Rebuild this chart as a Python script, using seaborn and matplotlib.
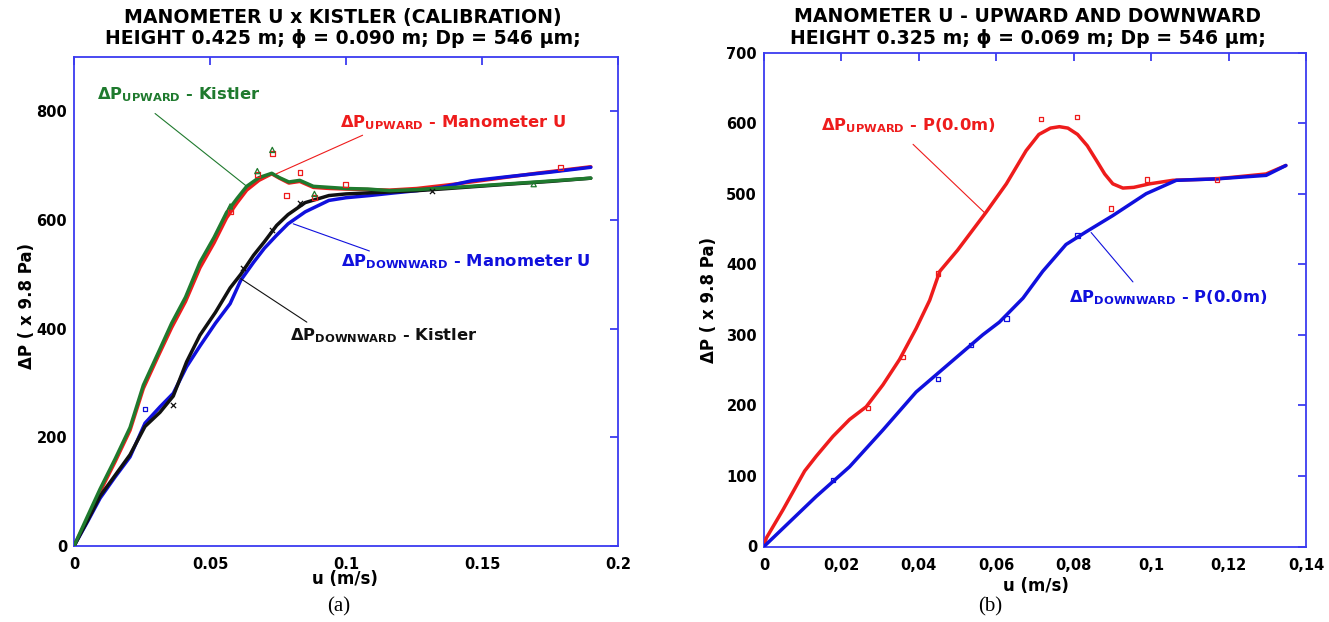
import matplotlib
matplotlib.use("Agg")
import matplotlib.pyplot as plt
import seaborn as sns
import pandas as pd

# ---------------- data: panel (a) ----------------
a_up_u = [0, 0.005, 0.0096, 0.0151, 0.0206, 0.0255, 0.031, 0.0359, 0.041, 0.0463, 0.0515,
          0.0561, 0.06, 0.0635, 0.068, 0.0727, 0.0755, 0.079, 0.083, 0.088, 0.094, 0.100,
          0.108, 0.116, 0.126, 0.14, 0.155, 0.17, 0.19]
a_up_kistler = [0, 55, 105, 160, 218, 296, 356, 410, 458, 522, 568, 614, 640, 662, 678, 686,
                678, 670, 673, 662, 660, 658, 657, 654, 656, 660, 665, 670, 677]
a_up_manometer = [0, 50, 100, 155, 213, 290, 350, 402, 450, 512, 558, 604, 632, 655, 673, 685,
                  677, 668, 671, 660, 658, 657, 656, 655, 658, 666, 676, 686, 698]

a_down_u = [0, 0.005, 0.0096, 0.0151, 0.0206, 0.0261, 0.0316, 0.0365, 0.0414, 0.0463, 0.052,
            0.0574, 0.0613, 0.066, 0.07, 0.0745, 0.0787, 0.085, 0.0937, 0.1, 0.1086, 0.118,
            0.126, 0.135, 0.146, 0.16, 0.175, 0.19]
a_down_manometer = [0, 45, 88, 127, 164, 226, 256, 281, 330, 368, 410, 446, 489, 522, 548, 572,
                    593, 615, 636, 641, 645, 650, 654, 660, 672, 680, 688, 697]
a_down_kistler = [0, 47, 92, 130, 168, 220, 246, 276, 339, 388, 430, 475, 500, 535, 560, 590,
                  610, 632, 645, 648, 650, 652, 654, 657, 661, 666, 671, 677]

a_red_pts_u = [0.0574, 0.0674, 0.0729, 0.0782, 0.0831, 0.0884, 0.0999, 0.179]
a_red_pts_p = [615, 684, 722, 645, 687, 642, 666, 696]
a_green_pts_u = [0.0574, 0.0674, 0.0729, 0.0884, 0.169]
a_green_pts_p = [625, 690, 729, 648, 666]
a_black_pts_u = [0.0365, 0.0622, 0.0727, 0.0831, 0.1316]
a_black_pts_p = [260, 512, 581, 631, 653]
a_blue_pts_u = [0.0261]
a_blue_pts_p = [252]

a_xticks = [0, 0.05, 0.1, 0.15, 0.2]
a_xticklabels = ["0", "0.05", "0.1", "0.15", "0.2"]
a_yticks = [0, 200, 400, 600, 800]

# ---------------- data: panel (b) ----------------
b_up_u = [0, 0.0006, 0.0049, 0.0105, 0.0135, 0.0178, 0.0221, 0.0264, 0.0307, 0.035, 0.0393,
          0.0428, 0.0454, 0.05, 0.0574, 0.0626, 0.0677, 0.071, 0.074, 0.0763, 0.0785, 0.081,
          0.0835, 0.086, 0.088, 0.0901, 0.0927, 0.0955, 0.0996, 0.1056, 0.1168, 0.1297, 0.1348]
b_up_p = [0, 12, 52, 107, 128, 156, 180, 198, 229, 265, 309, 349, 390, 420, 474, 514, 561, 584,
          593, 595, 593, 584, 568, 546, 528, 514, 508, 509, 514, 519, 521, 528, 540]
b_down_u = [0, 0.0135, 0.0221, 0.0307, 0.0393, 0.048, 0.0565, 0.0608, 0.0669, 0.072, 0.078,
            0.0832, 0.0901, 0.0987, 0.1065, 0.1168, 0.1297, 0.1348]
b_down_p = [0, 71, 113, 165, 219, 260, 300, 318, 352, 390, 428, 446, 469, 500, 519, 521, 526, 540]

b_red_pts_u = [0.0269, 0.0359, 0.045, 0.0716, 0.0808, 0.0897, 0.099, 0.117]
b_red_pts_p = [196, 269, 387, 606, 609, 479, 520, 520]
b_blue_pts_u = [0.0178, 0.045, 0.0535, 0.0626, 0.081]
b_blue_pts_p = [94, 237, 286, 323, 441]

b_xticks = [0, 0.02, 0.04, 0.06, 0.08, 0.1, 0.12, 0.14]
b_xticklabels = ["0", "0,02", "0,04", "0,06", "0,08", "0,1", "0,12", "0,14"]
b_yticks = [0, 100, 200, 300, 400, 500, 600, 700]

# ---------------- style ----------------
sns.set_style("white")
plt.rcParams["font.family"] = ["DejaVu Sans"]
plt.rcParams["text.color"] = "black"
plt.rcParams["axes.labelcolor"] = "black"
plt.rcParams["mathtext.fontset"] = "custom"
plt.rcParams["mathtext.bf"] = "DejaVu Sans:bold"
plt.rcParams["mathtext.rm"] = "DejaVu Sans"

RED = "#ee1c1c"
GREEN = "#1f7a2e"
BLUE = "#1010dd"
BLACK = "#111111"
SPINE = "#3b3bf0"

W, H = 1329, 622
fig = plt.figure(figsize=(W / 100, H / 100), dpi=100)
fig.patch.set_facecolor("white")


def fx(px):
    return px / W


def fy(py):
    return 1 - py / H


ax_a = fig.add_axes([fx(74), fy(546), (618 - 74) / W, (546 - 57) / H])
ax_b = fig.add_axes([fx(764), fy(546.5), (1306 - 764) / W, (546.5 - 52.6) / H])


def style_axes(ax, xlim, ylim, xticks, xticklabels, yticks):
    ax.set_xlim(*xlim)
    ax.set_ylim(*ylim)
    ax.set_xticks(xticks)
    ax.set_xticklabels(xticklabels)
    ax.set_yticks(yticks)
    ax.set_yticklabels([str(v) for v in yticks])
    for s in ax.spines.values():
        s.set_visible(True)
        s.set_color(SPINE)
        s.set_linewidth(1.3)
    ax.tick_params(direction="in", top=True, right=True, length=6, width=1.3,
                   color=SPINE, labelcolor="black", labelsize=10.5, pad=5)
    ax.tick_params(axis="x", pad=8)
    for lab in ax.get_xticklabels() + ax.get_yticklabels():
        lab.set_fontweight("bold")
    ax.set_xlabel("")
    ax.set_ylabel("")
    ax.grid(False)


def line(ax, u, p, color, lw=2.5):
    df = pd.DataFrame({"u": u, "p": p})
    sns.lineplot(data=df, x="u", y="p", ax=ax, color=color, lw=lw, sort=False,
                 estimator=None, zorder=3)


def pts(ax, u, p, color, marker, size=14):
    df = pd.DataFrame({"u": u, "p": p})
    if marker == "x":
        sns.scatterplot(data=df, x="u", y="p", ax=ax, color=color, marker="x", s=size,
                        linewidth=0.9, zorder=4)
    else:
        sns.scatterplot(data=df, x="u", y="p", ax=ax, marker=marker, s=size,
                        facecolor="none", edgecolor=color, linewidth=0.9, zorder=4)


def label(ax, x, y, sub, tail, color, fs=11.8):
    ax.text(x, y, r"$\mathbf{\Delta P_{%s}}$ - %s" % (sub, tail), color=color, fontsize=fs,
            fontweight="bold", va="baseline", ha="left", zorder=6)


def leader(ax, p0, p1, color):
    ax.annotate("", xy=p1, xytext=p0,
                arrowprops=dict(arrowstyle="-", color=color, lw=0.8, shrinkA=0, shrinkB=0))


# ---------------- panel (a) ----------------
line(ax_a, a_up_u, a_up_manometer, RED)
line(ax_a, a_down_u, a_down_manometer, BLUE)
line(ax_a, a_down_u, a_down_kistler, BLACK)
line(ax_a, a_up_u, a_up_kistler, GREEN)
pts(ax_a, a_red_pts_u, a_red_pts_p, RED, "s", 12)
pts(ax_a, a_green_pts_u, a_green_pts_p, GREEN, "^", 14)
pts(ax_a, a_black_pts_u, a_black_pts_p, BLACK, "x", 14)
pts(ax_a, a_blue_pts_u, a_blue_pts_p, BLUE, "s", 12)
style_axes(ax_a, (0, 0.2), (0, 900), a_xticks, a_xticklabels, a_yticks)

label(ax_a, 0.0083, 823, "UPWARD", "Kistler", GREEN)
label(ax_a, 0.0978, 770, "UPWARD", "Manometer U", RED)
label(ax_a, 0.098, 514, "DOWNWARD", "Manometer U", BLUE)
label(ax_a, 0.0793, 379, "DOWNWARD", "Kistler", BLACK)
leader(ax_a, (0.0298, 796), (0.0635, 662), GREEN)
leader(ax_a, (0.1061, 756), (0.0744, 685), RED)
leader(ax_a, (0.0806, 593), (0.1086, 543), BLUE)
leader(ax_a, (0.0613, 492), (0.0856, 412), BLACK)

# ---------------- panel (b) ----------------
line(ax_b, b_up_u, b_up_p, RED)
line(ax_b, b_down_u, b_down_p, BLUE)
pts(ax_b, b_red_pts_u, b_red_pts_p, RED, "s", 10)
pts(ax_b, b_blue_pts_u, b_blue_pts_p, BLUE, "s", 10)
style_axes(ax_b, (0, 0.14), (0, 700), b_xticks, b_xticklabels, b_yticks)

label(ax_b, 0.0147, 590, "UPWARD", "P(0.0m)", RED)
label(ax_b, 0.0787, 346, "DOWNWARD", "P(0.0m)", BLUE)
leader(ax_b, (0.0385, 570), (0.057, 473), RED)
leader(ax_b, (0.0845, 445), (0.0953, 375), BLUE)

# ---------------- titles / labels ----------------
tkw = dict(fontsize=13.6, fontweight="bold", ha="center", va="center",
           color="black", family=["DejaVu Sans"])
fig.text(fx(343), fy(17), "MANOMETER U x KISTLER (CALIBRATION)", **tkw)
fig.text(fx(343), fy(38), "HEIGHT 0.425 m; ϕ = 0.090 m; Dp = 546 μm;", **tkw)
fig.text(fx(1028), fy(17), "MANOMETER U - UPWARD AND DOWNWARD", **tkw)
fig.text(fx(1028), fy(39), "HEIGHT 0.325 m; ϕ = 0.069 m; Dp = 546 μm;", **tkw)

lkw = dict(fontsize=12, fontweight="bold", ha="center", va="center", color="black")
fig.text(fx(345), fy(579), "u (m/s)", **lkw)
fig.text(fx(1036), fy(586), "u (m/s)", **lkw)
fig.text(fx(27), fy(306), "ΔP ( x 9.8 Pa)", rotation=90, **lkw)
fig.text(fx(709), fy(300), "ΔP ( x 9.8 Pa)", rotation=90, **lkw)

ckw = dict(fontsize=15, ha="center", va="center", color="black", family=["Liberation Serif"])
fig.text(fx(339), fy(607), "(a)", **ckw)
fig.text(fx(990), fy(607), "(b)", **ckw)

fig.savefig("out.png", dpi=100, facecolor="white")
